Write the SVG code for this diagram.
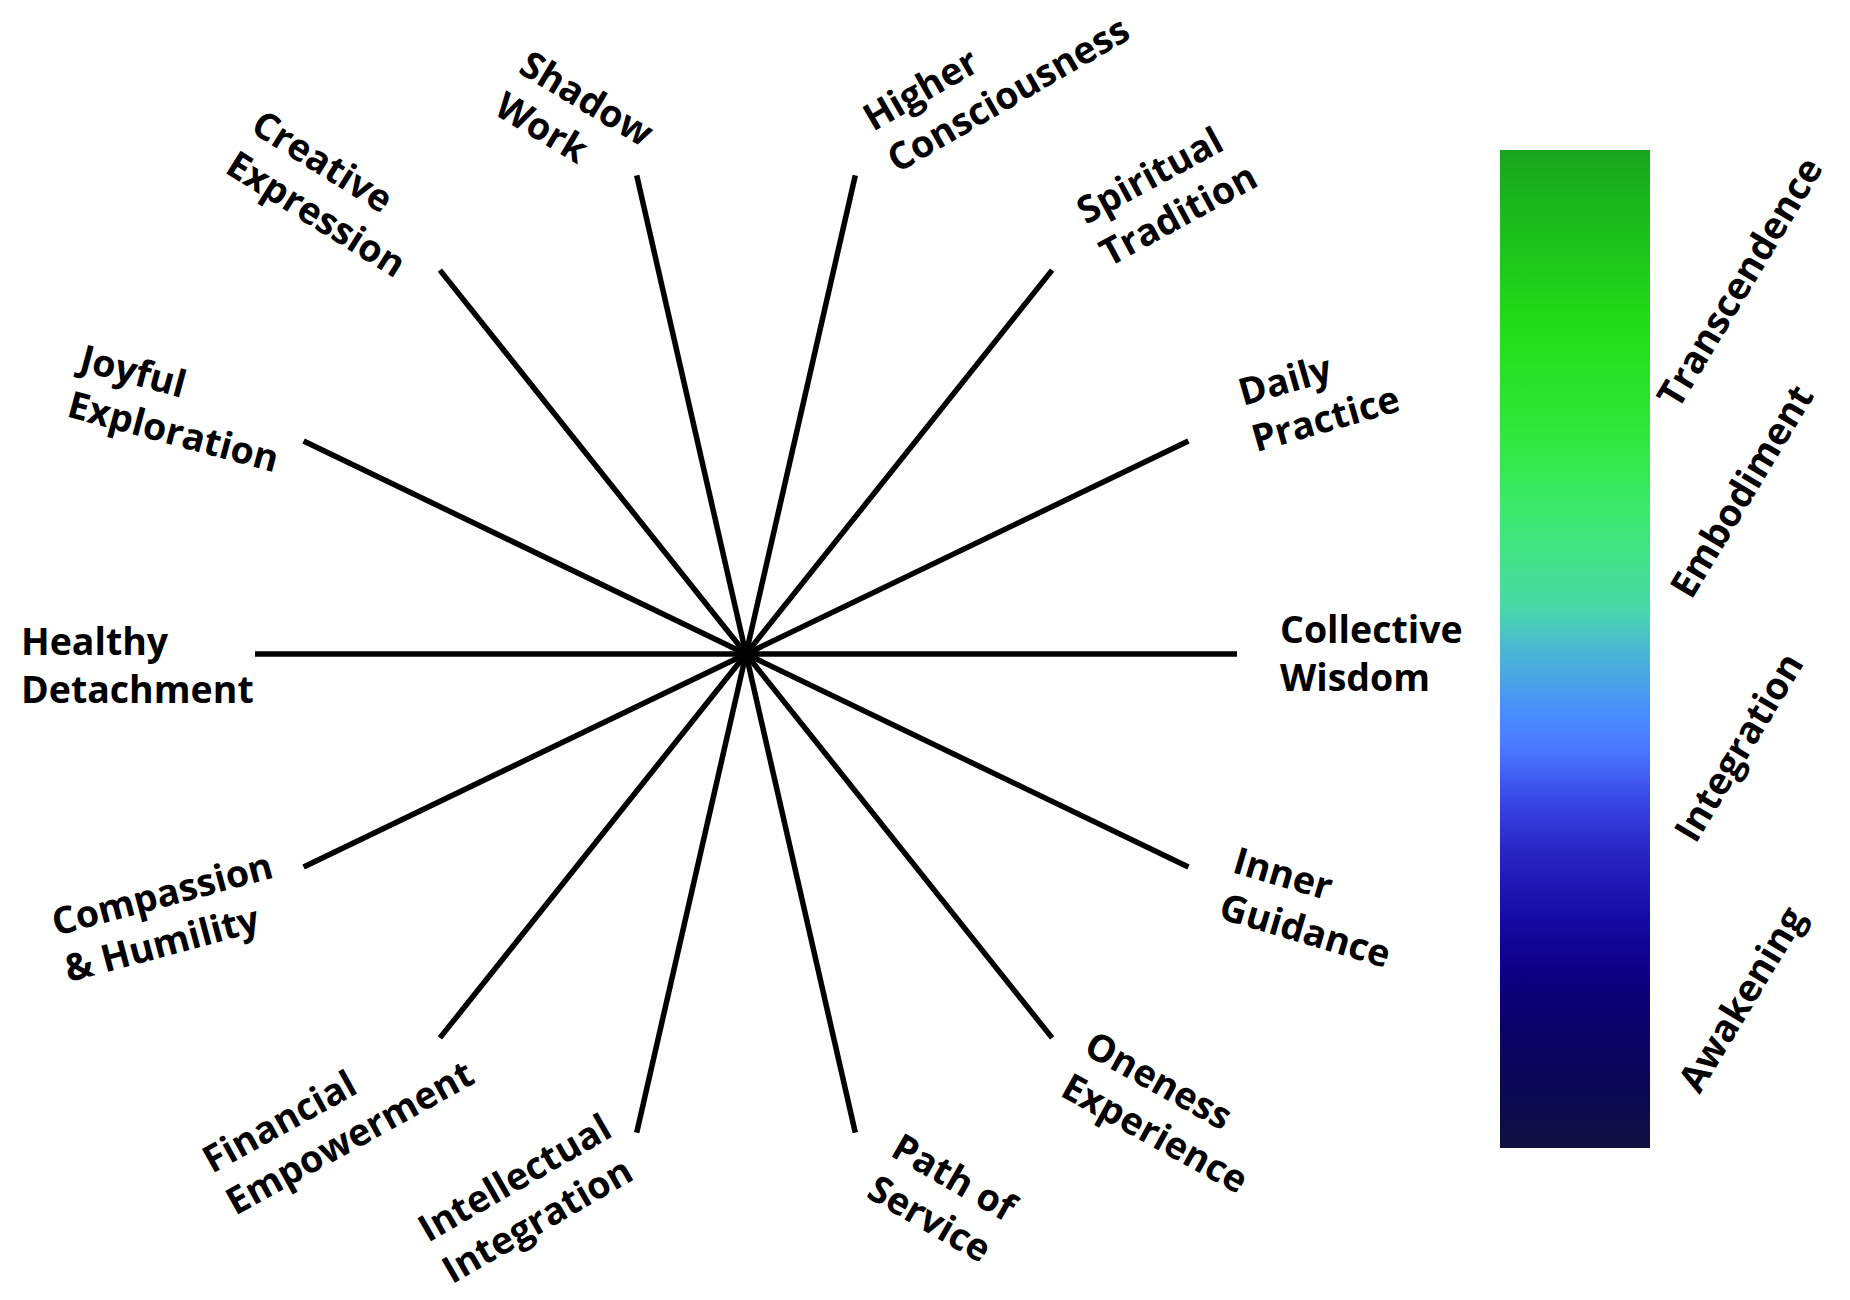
<svg xmlns="http://www.w3.org/2000/svg" width="1850" height="1300" viewBox="0 0 1850 1300">
<defs>
<linearGradient id="barGrad" x1="0" y1="0" x2="0" y2="1">
<stop offset="0" stop-color="#18a51e"/>
<stop offset="0.18" stop-color="#22dd18"/>
<stop offset="0.28" stop-color="#2ee83a"/>
<stop offset="0.38" stop-color="#40e878"/>
<stop offset="0.46" stop-color="#4ad8a8"/>
<stop offset="0.5" stop-color="#4ab8d4"/>
<stop offset="0.57" stop-color="#4a8aff"/>
<stop offset="0.6" stop-color="#4a78ff"/>
<stop offset="0.65" stop-color="#3a48e6"/>
<stop offset="0.7" stop-color="#2a26c6"/>
<stop offset="0.77" stop-color="#160aa4"/>
<stop offset="0.82" stop-color="#0e0086"/>
<stop offset="0.87" stop-color="#0c026c"/>
<stop offset="0.95" stop-color="#0c0a52"/>
<stop offset="1" stop-color="#101040"/>
</linearGradient>
<style>
.lbl{font-family:"Open Sans","Liberation Sans",sans-serif;font-weight:700;font-size:37.5px;fill:#000}
.spoke{stroke:#000;stroke-width:5.5;fill:none}
</style>
</defs>
<rect width="1850" height="1300" fill="#fff"/>
<g id="connectors">
<line class="spoke" x1="746" y1="654" x2="1237" y2="654"/>
<line class="spoke" x1="746" y1="654" x2="1188.4" y2="867"/>
<line class="spoke" x1="746" y1="654" x2="1052.1" y2="1037.9"/>
<line class="spoke" x1="746" y1="654" x2="855.3" y2="1132.7"/>
<line class="spoke" x1="746" y1="654" x2="636.7" y2="1132.7"/>
<line class="spoke" x1="746" y1="654" x2="439.9" y2="1037.9"/>
<line class="spoke" x1="746" y1="654" x2="303.6" y2="867"/>
<line class="spoke" x1="746" y1="654" x2="255" y2="654"/>
<line class="spoke" x1="746" y1="654" x2="303.6" y2="441"/>
<line class="spoke" x1="746" y1="654" x2="439.9" y2="270.1"/>
<line class="spoke" x1="746" y1="654" x2="636.7" y2="175.3"/>
<line class="spoke" x1="746" y1="654" x2="855.3" y2="175.3"/>
<line class="spoke" x1="746" y1="654" x2="1052.1" y2="270.1"/>
<line class="spoke" x1="746" y1="654" x2="1188.4" y2="441"/>
</g>
<g id="node-collective-wisdom"><text class="lbl" transform="translate(1280,643)"><tspan x="0" y="0">Collective</tspan><tspan x="0" y="48">Wisdom</tspan></text></g>
<g id="node-inner-guidance"><text class="lbl" transform="translate(1231,872) rotate(16.5)"><tspan x="0" y="0">Inner</tspan><tspan x="0" y="48">Guidance</tspan></text></g>
<g id="node-oneness-experience"><text class="lbl" transform="translate(1082,1053) rotate(29)"><tspan x="0" y="0">Oneness</tspan><tspan x="0" y="48">Experience</tspan></text></g>
<g id="node-path-of-service"><text class="lbl" transform="translate(889,1155) rotate(30)"><tspan x="0" y="0">Path of</tspan><tspan x="0" y="48">Service</tspan></text></g>
<g id="node-intellectual-integration"><text class="lbl" transform="translate(428,1243) rotate(-30)"><tspan x="0" y="0">Intellectual</tspan><tspan x="0" y="48">Integration</tspan></text></g>
<g id="node-financial-empowerment"><text class="lbl" transform="translate(212,1174) rotate(-29)"><tspan x="0" y="0">Financial</tspan><tspan x="0" y="48">Empowerment</tspan></text></g>
<g id="node-compassion-humility"><text class="lbl" transform="translate(56,936) rotate(-15)"><tspan x="0" y="0">Compassion</tspan><tspan x="0" y="48">&amp; Humility</tspan></text></g>
<g id="node-healthy-detachment"><text class="lbl" transform="translate(21,655)"><tspan x="0" y="0">Healthy</tspan><tspan x="0" y="48">Detachment</tspan></text></g>
<g id="node-joyful-exploration"><text class="lbl" transform="translate(78,370) rotate(15)"><tspan x="0" y="0">Joyful</tspan><tspan x="0" y="48">Exploration</tspan></text></g>
<g id="node-creative-expression"><text class="lbl" transform="translate(249,131) rotate(32)"><tspan x="0" y="0">Creative</tspan><tspan x="0" y="48">Expression</tspan></text></g>
<g id="node-shadow-work"><text class="lbl" transform="translate(517,72) rotate(31)"><tspan x="0" y="0">Shadow</tspan><tspan x="0" y="48">Work</tspan></text></g>
<g id="node-higher-consciousness"><text class="lbl" transform="translate(873,132) rotate(-30)"><tspan x="0" y="0">Higher</tspan><tspan x="0" y="48">Consciousness</tspan></text></g>
<g id="node-spiritual-tradition"><text class="lbl" transform="translate(1086,225) rotate(-28.5)"><tspan x="0" y="0">Spiritual</tspan><tspan x="0" y="48">Tradition</tspan></text></g>
<g id="node-daily-practice"><text class="lbl" transform="translate(1243,406) rotate(-16)"><tspan x="0" y="0">Daily</tspan><tspan x="0" y="48">Practice</tspan></text></g>
<g id="color-bar">
<rect x="1500" y="150" width="150" height="998" fill="url(#barGrad)"/>
<text class="lbl" text-anchor="middle" transform="translate(1751,289) rotate(-59)">Transcendence</text>
<text class="lbl" text-anchor="middle" transform="translate(1753,498) rotate(-59)">Embodiment</text>
<text class="lbl" text-anchor="middle" transform="translate(1750,754) rotate(-59)">Integration</text>
<text class="lbl" text-anchor="middle" transform="translate(1753,1006) rotate(-59)">Awakening</text>
</g>
</svg>
